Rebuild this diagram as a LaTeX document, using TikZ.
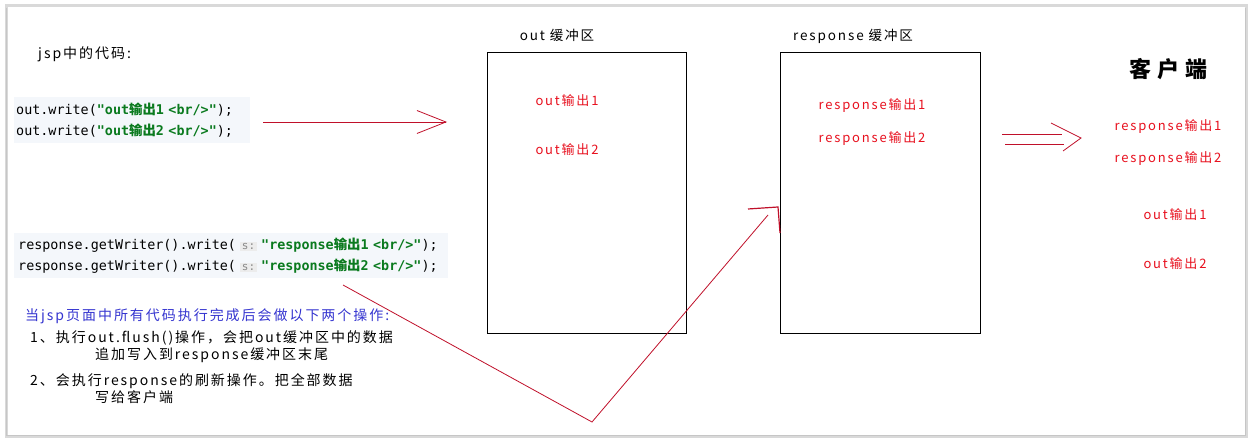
\documentclass[tikz,border=0pt]{standalone}
\usepackage{fontspec}
\setmainfont{Noto Sans CJK SC}
\setmonofont{DejaVu Sans Mono}
\newfontfamily\cjk{Noto Sans CJK SC}
\newfontfamily\cjkw[LetterSpace=14]{Noto Sans CJK SC}
\usetikzlibrary{arrows.meta}
\definecolor{codebg}{HTML}{F4F7FB}
\definecolor{codegreen}{HTML}{0A7A1E}
\definecolor{hintbg}{HTML}{ECECEC}
\definecolor{hintfg}{HTML}{8A8A8A}
\definecolor{outred}{HTML}{E8101E}
\definecolor{linered}{HTML}{C0102A}
\definecolor{noteblue}{HTML}{3535D0}
\newcommand\zhtxt[1]{{\cjk #1}}
\newcommand\strg[1]{\textcolor{codegreen}{\bfseries #1}}
\newcommand\paramhint{{\setlength{\fboxsep}{1.5pt}\colorbox{hintbg}{\color{hintfg}\fontsize{11}{11}\selectfont s:}}}
\tikzset{
    codeblock/.style={anchor=north west,fill=codebg,align=left,inner ysep=0pt,
        font=\ttfamily\fontsize{13.4}{21}\selectfont},
    note/.style={anchor=west,inner sep=0pt,font=\cjkw\fontsize{14}{14}\selectfont},
    outtext/.style={text=outred,inner sep=0pt,font=\cjkw\fontsize{13}{13}\selectfont},
    buffer/.style={draw=black,line width=1pt},
    redline/.style={draw=linered,line width=0.8pt}
}
\begin{document}
\begin{tikzpicture}[x=1pt,y=-1pt]
    \useasboundingbox (0,0) rectangle (1255,443);
    % frame
    \draw[gray!30,line width=3pt] (6,6) rectangle (1246,436);
    \draw[gray!45,line width=1.5pt] (6.5,8) -- (6.5,435.5) -- (1245.5,435.5) -- (1245.5,8);
    \fill[white] (7.5,7.5) rectangle (1244.5,434.5);

    % code on the left
    \node[note,text=black] (jspcode) at (38,54) {jsp中的代码:};
    \node[codeblock,minimum width=236pt,minimum height=46pt,text width=232pt,inner xsep=2pt] (outcode) at (14,97)
        {out.write(\strg{"out\zhtxt{输出}1 <br/>"});\\
         out.write(\strg{"out\zhtxt{输出}2 <br/>"});};
    \node[codeblock,minimum width=434pt,minimum height=45pt,text width=426pt,inner xsep=4pt] (respcode) at (14,233)
        {response.getWriter().write( \paramhint\ \strg{"response\zhtxt{输出}1 <br/>"});\\
         response.getWriter().write( \paramhint\ \strg{"response\zhtxt{输出}2 <br/>"});};

    % notes
    \node[note,text=noteblue] (note0) at (25,316) {当jsp页面中所有代码执行完成后会做以下两个操作:};
    \node[note] (note1) at (30,338) {1、执行out.flush()操作，会把out缓冲区中的数据};
    \node[note] (note1b) at (95,355) {追加写入到response缓冲区末尾};
    \node[note] (note2) at (30,381) {2、会执行response的刷新操作。把全部数据};
    \node[note] (note2b) at (95,397) {写给客户端};

    % buffers
    \node[buffer,minimum width=199pt,minimum height=281pt,anchor=north west] (outbuf) at (487,52) {};
    \node[buffer,minimum width=200pt,minimum height=281pt,anchor=north west] (respbuf) at (780,52) {};
    \node[font=\cjkw\fontsize{13.5}{13.5}\selectfont] (outlabel) at (557,35) {out 缓冲区};
    \node[font=\cjkw\fontsize{13.5}{13.5}\selectfont] (resplabel) at (853,36) {response 缓冲区};
    \node[outtext] (outa) at (567,101) {out输出1};
    \node[outtext] (outb) at (567,150) {out输出2};
    \node[outtext] (respa) at (872,106) {response输出1};
    \node[outtext] (respb) at (872,139) {response输出2};

    % client
    \node[font=\cjk\bfseries\fontsize{22}{22}\selectfont] (client) at (1168,69) {客\hspace{6pt}户\hspace{6pt}端};
    \node[outtext] (clienta) at (1168,127) {response输出1};
    \node[outtext] (clientb) at (1168,159) {response输出2};
    \node[outtext] (clientc) at (1175,215) {out输出1};
    \node[outtext] (clientd) at (1175,264) {out输出2};

    % arrows
    \coordinate (a1) at (263,122);
    \coordinate (a2) at (447,122);
    \draw[redline,-{Straight Barb[length=29pt,width=23pt]}] (a1) -- (a2);

    \coordinate (p1) at (343,285);
    \coordinate (p2) at (592,422);
    \coordinate (p3) at (768,215);
    \coordinate (h1) at (748,209);
    \coordinate (h2) at (778,207);
    \coordinate (h3) at (780,233);
    \draw[redline] (p1) -- (p2) -- (p3);
    \draw[redline,line width=1.2pt] (h1) -- (h2) -- (h3);

    \coordinate (d1) at (1002,134);
    \coordinate (d2) at (1062,134);
    \coordinate (d3) at (1005,144);
    \coordinate (d4) at (1064,144);
    \coordinate (t1) at (1051,123);
    \coordinate (t2) at (1081,138);
    \coordinate (t3) at (1063,151);
    \draw[redline] (d1) -- (d2);
    \draw[redline] (d3) -- (d4);
    \draw[redline] (t1) -- (t2) -- (t3);
\end{tikzpicture}
\end{document}
